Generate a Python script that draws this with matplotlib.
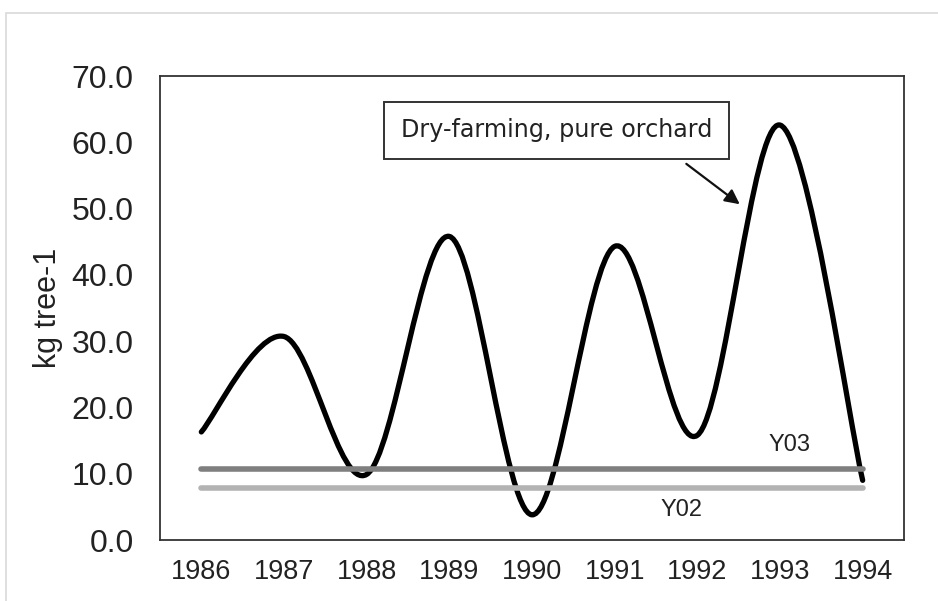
import matplotlib
matplotlib.use('Agg')
from matplotlib import pyplot as plt
from matplotlib.path import Path
from matplotlib.patches import PathPatch, Rectangle

years = ['1986', '1987', '1988', '1989', '1990', '1991', '1992', '1993', '1994']
yield_kg = [16.3, 30.7, 9.9, 45.8, 3.8, 44.3, 15.8, 62.6, 9.0]
y03 = 10.7
y02 = 7.8


def smooth_path(xs, ys):
    # excel-style smoothed line: cubic bezier segments through every point
    n = len(xs)
    verts = [(xs[0], ys[0])]
    codes = [Path.MOVETO]
    for i in range(n - 1):
        x0, y0 = xs[max(i - 1, 0)], ys[max(i - 1, 0)]
        x1, y1 = xs[i], ys[i]
        x2, y2 = xs[i + 1], ys[i + 1]
        x3, y3 = xs[min(i + 2, n - 1)], ys[min(i + 2, n - 1)]
        c1 = (x1 + (x2 - x0) / 6, y1 + (y2 - y0) / 6)
        c2 = (x2 - (x3 - x1) / 6, y2 - (y3 - y1) / 6)
        verts += [c1, c2, (x2, y2)]
        codes += [Path.CURVE4] * 3
    return Path(verts, codes)


plt.rcParams['font.family'] = ['Liberation Sans', 'DejaVu Sans']

fig = plt.figure(figsize=(9.38, 6.01), dpi=100)
fig.patches.append(Rectangle((6 / 938, -0.1), 1.2, 1 - 13 / 601 + 0.1,
                             transform=fig.transFigure, fill=False,
                             edgecolor='#d9d9d9', linewidth=1.2))
ax = fig.add_axes([160 / 938, 1 - 540 / 601, 744 / 938, 464 / 601])

x = list(range(len(years)))
ax.plot([x[0], x[-1]], [y03, y03], color='#7f7f7f', linewidth=4, solid_capstyle='round')
ax.plot([x[0], x[-1]], [y02, y02], color='#b3b3b3', linewidth=4, solid_capstyle='round')
ax.add_patch(PathPatch(smooth_path(x, yield_kg), fill=False, edgecolor='black',
                       linewidth=3.8, capstyle='round', joinstyle='round'))

ax.text(7.12, 14.3, 'Y03', fontsize=17, color='#222222', ha='center', va='center')
ax.text(5.81, 4.5, 'Y02', fontsize=17, color='#222222', ha='center', va='center')

ax.text(4.3, 61.8, 'Dry-farming, pure orchard', family='DejaVu Sans', fontsize=17.2,
        color='#222222', ha='center', va='center',
        bbox=dict(boxstyle='square,pad=0.7', facecolor='white', edgecolor='#333333', linewidth=1.4))
ax.annotate('', xy=(6.54, 50.4), xytext=(5.84, 57.0),
            arrowprops=dict(arrowstyle='-|>', color='#111111', linewidth=1.6, mutation_scale=22))

ax.set_xlim(-0.5, len(years) - 0.5)
ax.set_ylim(0, 70)
ax.set_xticks(x)
ax.set_xticklabels(years)
ax.set_yticks(range(0, 71, 10))
ax.set_yticklabels(['%.1f' % v for v in range(0, 71, 10)])
ax.tick_params(axis='x', length=0, labelsize=19.5, pad=14, colors='#222222')
ax.tick_params(axis='y', length=0, labelsize=23, pad=19, colors='#222222')
ax.set_ylabel('kg tree-1', fontsize=22, color='#222222', labelpad=6)
for s in ax.spines.values():
    s.set_color('#333333')
    s.set_linewidth(1.3)

plt.savefig('out.png', dpi=100)
